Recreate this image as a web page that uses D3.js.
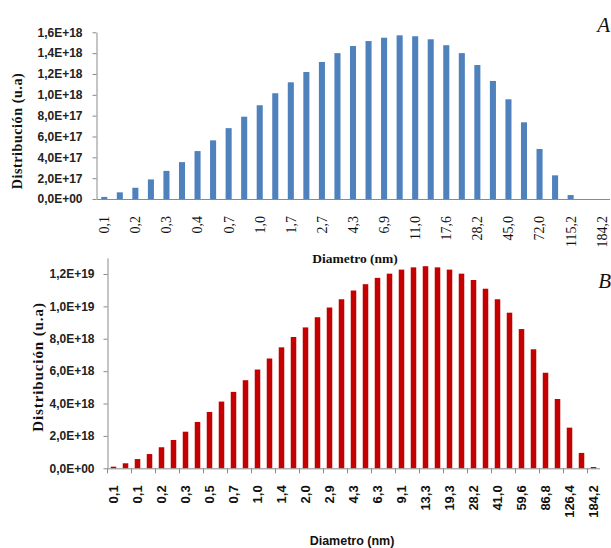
<!DOCTYPE html>
<html>
<head>
<meta charset="utf-8">
<script src="https://cdn.jsdelivr.net/npm/d3@7"></script>
<style>
  html, body { margin: 0; padding: 0; background: #fff; }
  svg { display: block; }
</style>
</head>
<body>
<svg id="chart" width="611" height="548"></svg>
<script>
// ---- Data ----
const diamA = ["0,1","0,1","0,2","0,2","0,3","0,3","0,4","0,5","0,7","0,8","1,0","1,3","1,7","2,1","2,7","3,4","4,3","5,4","6,9","8,7","11,0","13,9","17,6","22,3","28,2","35,6","45,0","57,0","72,0","91,1","115,2","145,7","184,2"];
const valuesA = [0.02,0.064,0.108,0.188,0.27,0.354,0.46,0.563,0.68,0.79,0.90,1.015,1.12,1.219,1.315,1.40,1.468,1.516,1.548,1.571,1.562,1.533,1.476,1.40,1.286,1.133,0.957,0.736,0.48,0.227,0.038,0,0].map(v => v * 1e18);
const yTicksA = [0,2e17,4e17,6e17,8e17,1e18,1.2e18,1.4e18,1.6e18];

const diamB = ["0,1","0,1","0,1","0,2","0,2","0,3","0,3","0,4","0,5","0,5","0,7","0,8","1,0","1,1","1,4","1,7","2,0","2,4","2,9","3,6","4,3","5,2","6,3","7,5","9,1","11,0","13,3","16,0","19,3","23,3","28,2","33,9","41,0","49,4","59,6","71,9","86,8","104,7","126,4","152,6","184,2"];
const valuesB = [0.1,0.31,0.57,0.88,1.30,1.75,2.26,2.86,3.48,4.12,4.72,5.44,6.10,6.78,7.47,8.11,8.70,9.33,9.93,10.44,10.98,11.37,11.76,12.02,12.27,12.41,12.48,12.41,12.27,12.02,11.63,11.09,10.44,9.61,8.60,7.35,5.90,4.28,2.51,0.95,0.08].map(v => v * 1e18);
const yTicksB = [0,2e18,4e18,6e18,8e18,1e19,1.2e19];

// ---- Helpers ----
function sci(v) {
  if (v === 0) return "0,0E+00";
  let e = Math.floor(Math.log10(v) + 1e-9);
  let m = v / Math.pow(10, e);
  if (Math.round(m * 10) / 10 >= 10) { e += 1; m = v / Math.pow(10, e); }
  return m.toFixed(1).replace(".", ",") + "E+" + String(e).padStart(2, "0");
}

const svg = d3.select("#chart");
svg.append("rect").attr("width", 611).attr("height", 548).attr("fill", "#fff");
const AXIS = "#8a8a8a";

function drawChart(opt) {
  const g = svg.append("g");
  const idx = d3.range(opt.values.length);
  const x = d3.scaleBand().domain(idx).range(opt.xRange)
    .paddingInner(opt.pad).paddingOuter(opt.pad / 2);
  const y = d3.scaleLinear().domain(opt.yDomain).range(opt.yRange);

  // bars
  g.append("g").selectAll("rect").data(opt.values).join("rect")
    .attr("x", (d, i) => x(i))
    .attr("width", x.bandwidth())
    .attr("y", d => y(d))
    .attr("height", d => y(0) - y(d))
    .attr("fill", opt.color);

  // y axis
  const ya = g.append("g").attr("transform", `translate(${opt.xRange[0]},0)`)
    .call(d3.axisLeft(y).tickValues(opt.yTicks).tickFormat(sci).tickSizeInner(4).tickSizeOuter(0).tickPadding(opt.yPad));
  ya.select(".domain").attr("stroke", AXIS);
  ya.selectAll(".tick line").attr("stroke", AXIS);
  ya.selectAll(".tick text")
    .attr("fill", "#222")
    .style("font-family", "'Liberation Sans', Arial, sans-serif")
    .style("font-weight", "bold")
    .style("font-size", opt.yFont + "px");

  // x axis
  const xa = g.append("g").attr("transform", `translate(0,${y(0)})`)
    .call(d3.axisBottom(x).tickValues(idx.filter(i => i % 2 === 0))
      .tickFormat(i => opt.labels[i]).tickSize(0).tickSizeOuter(0));
  xa.select(".domain").attr("stroke", AXIS);
  xa.selectAll(".tick text")
    .attr("transform", "rotate(-90)")
    .attr("x", -opt.xLabOff).attr("y", 0).attr("dy", "0.35em")
    .attr("text-anchor", "end")
    .attr("fill", "#111")
    .style("font-family", opt.xFontFam)
    .style("font-weight", opt.xFontWeight)
    .style("font-size", opt.xFont + "px");

  if (opt.xTickMarks) {
    const step = x.step();
    g.append("g").selectAll("line")
      .data(idx.filter(i => i % 2 === 0))
      .join("line")
      .attr("x1", i => x(i) + x.bandwidth() / 2 - step / 2)
      .attr("x2", i => x(i) + x.bandwidth() / 2 - step / 2)
      .attr("y1", y(0)).attr("y2", y(0) + 5)
      .attr("stroke", AXIS);
  }
  return { x, y };
}

// Chart A
drawChart({
  values: valuesA, labels: diamA, yTicks: yTicksA,
  xRange: [96.5, 609.5], yDomain: [0, 1.6e18], yRange: [199, 32.3],
  pad: 0.61, color: "#4f81bd", yPad: 10, yFont: 12,
  xLabOff: 17, xFont: 14, xFontFam: "'Liberation Serif', 'Times New Roman', serif", xFontWeight: "normal",
  xTickMarks: false
});

// Chart B
drawChart({
  values: valuesB, labels: diamB, yTicks: yTicksB,
  xRange: [107.5, 599.5], yDomain: [0, 1.3e19], yRange: [468.3, 257.8],
  pad: 0.54, color: "#c40000", yPad: 9, yFont: 12,
  xLabOff: 17, xFont: 13, xFontFam: "'Liberation Sans', Arial, sans-serif", xFontWeight: "bold",
  xTickMarks: true
});

// Titles
const serif = "'Liberation Serif', 'Times New Roman', serif";
const sans = "'Liberation Sans', Arial, sans-serif";

svg.append("text").attr("x", 355).attr("y", 263).attr("text-anchor", "middle")
  .style("font-family", serif).style("font-weight", "bold").style("font-size", "13.5px")
  .attr("fill", "#111").text("Diametro (nm)");

svg.append("text").attr("transform", "translate(22,131) rotate(-90)").attr("text-anchor", "middle")
  .style("font-family", serif).style("font-weight", "bold").style("font-size", "14px")
  .style("letter-spacing", "0.6px").attr("fill", "#111").text("Distribución (u.a)");

svg.append("text").attr("transform", "translate(43,367) rotate(-90)").attr("text-anchor", "middle")
  .style("font-family", serif).style("font-weight", "bold").style("font-size", "15px")
  .style("letter-spacing", "0.9px").attr("fill", "#111").text("Distribución (u.a)");

svg.append("text").attr("x", 352).attr("y", 545).attr("text-anchor", "middle")
  .style("font-family", sans).style("font-weight", "bold").style("font-size", "12.5px")
  .attr("fill", "#111").text("Diametro (nm)");

svg.append("text").attr("x", 610).attr("y", 32).attr("text-anchor", "end")
  .style("font-family", serif).style("font-style", "italic").style("font-size", "21px")
  .attr("fill", "#111").text("A");

svg.append("text").attr("x", 611).attr("y", 288).attr("text-anchor", "end")
  .style("font-family", serif).style("font-style", "italic").style("font-size", "21px")
  .attr("fill", "#111").text("B");
</script>
</body>
</html>
